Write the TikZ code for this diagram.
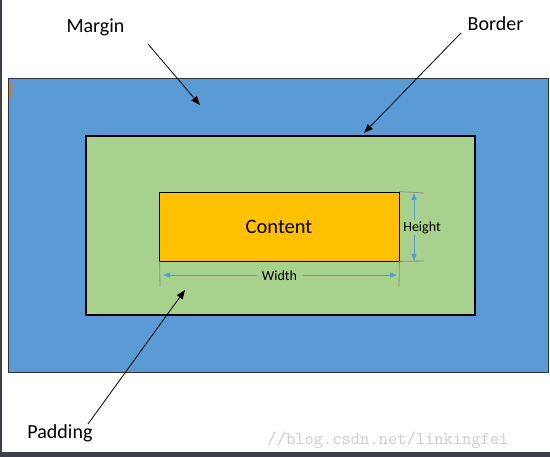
\documentclass[tikz,border=0pt]{standalone}
\usepackage{fontspec}
\setmainfont{Carlito}
\usetikzlibrary{arrows.meta}
\definecolor{mblue}{HTML}{5B9BD5}
\definecolor{pgreen}{HTML}{A9D18E}
\definecolor{corange}{HTML}{FFC000}
\definecolor{frame}{HTML}{3C4048}
\definecolor{dimgrey}{HTML}{8C8C8C}
\definecolor{wmgrey}{HTML}{CDCDCD}
\tikzset{
  lbl/.style={font=\fontsize{20}{22}\selectfont, inner sep=0pt},
  dimlbl/.style={font=\fontsize{14}{16}\selectfont, inner sep=1.5pt, fill=pgreen},
  pointer/.style={-{Triangle[length=9pt,width=7pt]}, line width=0.8pt},
  dimarrow/.style={{Triangle[length=7pt,width=5pt]}-{Triangle[length=7pt,width=5pt]}, draw=mblue, line width=0.8pt},
  ext/.style={draw=dimgrey, line width=0.8pt},
}
\begin{document}
\begin{tikzpicture}[x=1pt,y=-1pt]
\useasboundingbox (0,0) rectangle (550,457);
\fill[white] (0,0) rectangle (550,457);
\fill[frame] (0,0) rectangle (2,457);
\fill[frame] (0,452) rectangle (550,457);
% margin box
\node[draw=black!80, fill=mblue, line width=0.8pt, minimum width=540pt, minimum height=294pt, inner sep=0pt] (margin) at (278,225) {};
\draw[draw={rgb,255:red,200;green,120;blue,40}, line width=1pt] (10,82) -- (10,97);
% padding/border box
\node[draw=black, fill=pgreen, line width=2.6pt, minimum width=389pt, minimum height=179pt, inner sep=0pt] (padding) at (280.5,225.5) {};
% content
\node[draw=black, fill=corange, line width=0.8pt, minimum width=240pt, minimum height=69pt, inner sep=0pt, font=\fontsize{20.5}{22}\selectfont] (content) at (279,226.5) {Content};
% height dimension
\coordinate (ht) at (424,193);
\coordinate (hb) at (424,261);
\draw[ext] (content.north east) -- (ht);
\draw[ext] (content.south east) -- (hb);
\coordinate (ha1) at (414,193);
\coordinate (ha2) at (414,261);
\draw[dimarrow] (ha1) -- (ha2);
\node[dimlbl, minimum width=38pt] (hlbl) at (422,227.5) {Height};
% width dimension
\coordinate (wl) at (160,287);
\coordinate (wr) at (399,287);
\draw[ext] (content.south west) ++(1,0) -- (wl);
\draw[ext] (content.south east) -- (wr);
\coordinate (wa1) at (163,275);
\coordinate (wa2) at (397,275);
\draw[dimarrow] (wa1) -- (wa2);
\node[dimlbl, minimum width=46pt] (wlbl) at (279.5,275.5) {Width};
% labels and pointers
\node[lbl] (mlbl) at (95.5,27) {Margin};
\node[lbl] (blbl) at (495.5,24) {Border};
\node[lbl] (plbl) at (60,433) {Padding};
\coordinate (mtip) at (200,105);
\coordinate (btip) at (364,133);
\coordinate (ptip) at (185,290);
\draw[pointer] (148,44) -- (mtip);
\draw[pointer] (461,33) -- (btip);
\draw[pointer] (88,424) -- (ptip);
% watermark
\node[font=\ttfamily\fontsize{18}{19}\selectfont, text=wmgrey, inner sep=0pt] (wm) at (388,440) {//blog.csdn.net/linkingfei};
\end{tikzpicture}
\end{document}
